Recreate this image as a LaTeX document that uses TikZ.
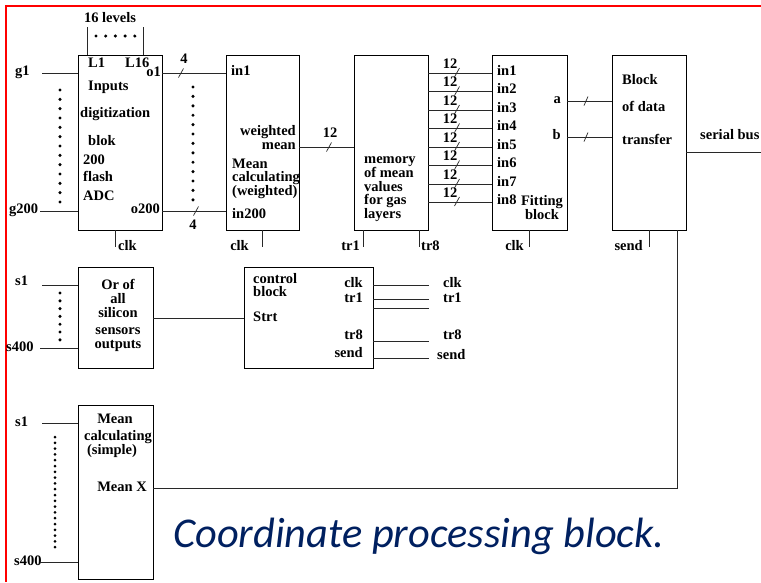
\documentclass[tikz,border=0pt]{standalone}
\usepackage{fontspec}
\setmainfont{Liberation Serif}
\newfontfamily\capfont{Carlito}
\definecolor{capblue}{RGB}{0,32,96}
\definecolor{wirec}{RGB}{40,40,40}
\begin{document}
\begin{tikzpicture}[x=1pt,y=-1pt,
 box/.style={draw=black, line width=0.9pt, rectangle, inner sep=0pt},
 wire/.style={draw=wirec, line width=0.8pt},
 tick/.style={draw=wirec, line width=0.7pt},
 lbl/.style={inner sep=0pt, font=\fontsize{14.5}{14.5}\selectfont\bfseries},
 dotc/.style={fill=black},
]
\useasboundingbox (0,0) rectangle (761,582);
\fill[white] (0,0) rectangle (761,582);
\draw[red, line width=2.2pt] (6,582) -- (6,6) -- (761,6);

% ---------- boxes ----------
\node[box, minimum width=84, minimum height=175] (b1) at (120,142.5) {};
\node[box, minimum width=73, minimum height=175] (b2) at (262.5,142.5) {};
\node[box, minimum width=74, minimum height=175] (b3) at (391,142.5) {};
\node[box, minimum width=75, minimum height=175] (b4) at (529.5,142.5) {};
\node[box, minimum width=74, minimum height=175] (b5) at (649,142.5) {};
\node[box, minimum width=75, minimum height=101] (b6) at (115.5,317.5) {};
\node[box, minimum width=129, minimum height=101] (b7) at (308.5,317.5) {};
\node[box, minimum width=75, minimum height=174] (b8) at (115.5,492) {};

% ---------- block 1 ----------
\node[lbl] (lev) at (110,17.5) {16 levels};
\coordinate (l1top) at (87,27);
\coordinate (l16top) at (143,27);
\draw[wire] (l1top) -- (l1top |- b1.north);
\draw[wire] (l16top) -- (l16top |- b1.north);
\foreach \i in {0,...,4} \fill[dotc] ({96+9.7*\i},36) circle (1.7);
\node[lbl, anchor=mid west] (tL1) at (88,65) {L1};
\node[lbl, anchor=mid west] (tL16) at (125,65) {L16};
\node[lbl, anchor=mid east] (to1) at (161,74) {o1};
\node[lbl, anchor=mid west] (tinp) at (88,88) {Inputs};
\node[lbl, anchor=mid west] (tdig) at (80,115) {digitization};
\node[lbl, anchor=mid west] (tblok) at (88,143) {blok};
\node[lbl, anchor=mid west] (t200) at (83,162) {200};
\node[lbl, anchor=mid west] (tflash) at (83,179) {flash};
\node[lbl, anchor=mid west] (tadc) at (83,198) {ADC};
\node[lbl, anchor=mid east] (to200) at (160,211) {o200};
\node[lbl, anchor=mid west] (tg1) at (15,73) {g1};
\node[lbl, anchor=mid west] (tg200) at (9,211) {g200};
\coordinate (g1c) at (42,73);
\coordinate (g200c) at (40,211);
\draw[wire] (g1c) -- (g1c -| b1.west);
\draw[wire] (g200c) -- (g200c -| b1.west);
\foreach \i in {0,...,12} \fill[dotc] (60,{90+9.33*\i}) circle (1.7);
\foreach \i in {0,...,12} \fill[dotc] (193,{87+9.4*\i}) circle (1.7);
\draw[wire] (b1.east |- 0,73) -- (b2.west |- 0,73);
\draw[wire] (b1.east |- 0,211) -- (b2.west |- 0,211);
\draw[tick] (181,73) +(-2.5,4.5) -- +(2.5,-4.5);
\draw[tick] (196,211) +(-2.5,4.5) -- +(2.5,-4.5);
\node[lbl] (t4a) at (184,59) {4};
\node[lbl] (t4b) at (193,225) {4};
\coordinate (clk1) at (115,247);
\draw[wire] (clk1 |- b1.south) -- (clk1);
\node[lbl, anchor=mid west] (tclk1) at (118,248) {clk};

% ---------- block 2 ----------
\node[lbl, anchor=mid west] (tin1) at (231,73) {in1};
\node[lbl, anchor=mid east] (twei) at (296,133) {weighted};
\node[lbl, anchor=mid east] (tmean) at (296,147) {mean};
\node[lbl, anchor=mid west] (tMean) at (232,166) {Mean};
\node[lbl, anchor=mid west] (tcalc) at (232,179) {calculating};
\node[lbl, anchor=mid west] (twtd) at (232,193) {(weighted)};
\node[lbl, anchor=mid west] (tin200) at (232,216) {in200};
\draw[wire] (b2.east |- 0,147) -- (b3.west |- 0,147);
\draw[tick] (329,147) +(-2.5,4.5) -- +(2.5,-4.5);
\node[lbl] (t12m) at (330,133) {12};
\coordinate (clk2) at (262,247);
\draw[wire] (clk2 |- b2.south) -- (clk2);
\node[lbl, anchor=mid east] (tclk2) at (249,248) {clk};

% ---------- block 3 ----------
\node[lbl, anchor=mid west] (tm1) at (364,161) {memory};
\node[lbl, anchor=mid west] (tm2) at (364,175) {of mean};
\node[lbl, anchor=mid west] (tm3) at (364,189) {values};
\node[lbl, anchor=mid west] (tm4) at (364,202) {for gas};
\node[lbl, anchor=mid west] (tm5) at (364,216) {layers};
\foreach \y [count=\k] in {73,91.5,110,128.5,147,165.5,184,202} {
  \draw[wire] (b3.east |- 0,\y) -- (b4.west |- 0,\y);
  \draw[tick] (457,\y) +(-2.5,4) -- +(2.5,-5);
  \node[lbl] (t12-\k) at (450,{\y-9.5}) {12};
  \node[lbl, anchor=mid west] (tin-\k) at (497,{\y}) {in\k};
}
\coordinate (tr1c) at (363,247);
\coordinate (tr8c) at (419,247);
\draw[wire] (tr1c |- b3.south) -- (tr1c);
\draw[wire] (tr8c |- b3.south) -- (tr8c);
\node[lbl, anchor=mid east] (ttr1) at (360,248) {tr1};
\node[lbl, anchor=mid west] (ttr8) at (421,248) {tr8};

% ---------- block 4 ----------
\node[lbl] (tfit) at (542,202) {Fitting};
\node[lbl] (tfblk) at (542,215) {block};
\node[lbl, anchor=mid east] (ta) at (561,101) {a};
\node[lbl, anchor=mid east] (tb) at (561,137) {b};
\draw[wire] (b4.east |- 0,101) -- (b5.west |- 0,101);
\draw[wire] (b4.east |- 0,137) -- (b5.west |- 0,137);
\draw[tick] (586,101) +(-2,4.5) -- +(2,-4.5);
\draw[tick] (586,137) +(-2,4.5) -- +(2,-4.5);
\coordinate (clk4) at (529,247);
\draw[wire] (clk4 |- b4.south) -- (clk4);
\node[lbl, anchor=mid east] (tclk4) at (524,248) {clk};

% ---------- block 5 ----------
\node[lbl, anchor=mid west] (tB1) at (622,82) {Block};
\node[lbl, anchor=mid west] (tB2) at (622,109) {of data};
\node[lbl, anchor=mid west] (tB3) at (622,142) {transfer};
\coordinate (busend) at (761,152);
\draw[wire] (busend -| b5.east) -- (busend);
\node[lbl, anchor=mid west] (tbus) at (700,137) {serial bus};
\coordinate (sendc) at (649,247);
\draw[wire] (sendc |- b5.south) -- (sendc);
\node[lbl, anchor=mid east] (tsend) at (643,248) {send};

% ---------- block 6 ----------
\node[lbl] (to1a) at (118,284) {Or of};
\node[lbl] (to1b) at (118,299) {all};
\node[lbl] (to1c) at (118,313) {silicon};
\node[lbl] (to1d) at (118,331) {sensors};
\node[lbl] (to1e) at (118,346) {outputs};
\node[lbl, anchor=mid west] (ts1a) at (15,283) {s1};
\node[lbl, anchor=mid west] (ts400a) at (6,349) {s400};
\coordinate (s1a) at (42,285);
\coordinate (s400a) at (40,348);
\draw[wire] (s1a) -- (s1a -| b6.west);
\draw[wire] (s400a) -- (s400a -| b6.west);
\foreach \i in {0,...,6} \fill[dotc] (60,{293+7.8*\i}) circle (1.7);
\draw[wire] (b6.east |- 0,318) -- (b7.west |- 0,318);

% ---------- block 7 ----------
\node[lbl, anchor=mid west] (tc1) at (253,281) {control};
\node[lbl, anchor=mid west] (tc2) at (253,294) {block};
\node[lbl, anchor=mid west] (tc3) at (253,319) {Strt};
\node[lbl, anchor=mid east] (tcclk) at (363,285) {clk};
\node[lbl, anchor=mid east] (tctr1) at (363,300) {tr1};
\node[lbl, anchor=mid east] (tctr8) at (363,337) {tr8};
\node[lbl, anchor=mid east] (tcsend) at (363,355) {send};
\foreach \y/\n in {285/o1,299/o2,308/o3,341/o4,358/o5} {
  \coordinate (c\n) at (429,\y);
  \draw[wire] (c\n -| b7.east) -- (c\n);
}
\node[lbl, anchor=mid west] (toclk) at (443,285) {clk};
\node[lbl, anchor=mid west] (totr1) at (443,300) {tr1};
\node[lbl, anchor=mid west] (totr8) at (443,337) {tr8};
\node[lbl, anchor=mid west] (tosend) at (437,357) {send};

% ---------- block 8 ----------
\node[lbl] (ts1) at (115,419) {Mean};
\node[lbl] (ts2) at (118,437) {calculating};
\node[lbl] (ts3) at (112,451) {(simple)};
\node[lbl, anchor=mid east] (tmx) at (147,489) {Mean X};
\node[lbl, anchor=mid west] (ts1b) at (15,424) {s1};
\node[lbl, anchor=mid west] (ts400b) at (14,563) {s400};
\coordinate (s1b) at (42,423);
\coordinate (s400b) at (40,562);
\draw[wire] (s1b) -- (s1b -| b8.west);
\draw[wire] (s400b) -- (s400b -| b8.west);
\foreach \i in {0,...,19} \fill[dotc] (55,{437+5.8*\i}) circle (1.5);
\coordinate (mxc) at (677,488);
\draw[wire] (b8.east |- mxc) -- (mxc) -- (mxc |- b5.south);

% ---------- caption ----------
\node[anchor=base west, inner sep=0pt, text=capblue, font=\capfont\itshape\fontsize{42.4}{42.4}\selectfont] (cap) at (173,547) {Coordinate processing block.};
\end{tikzpicture}
\end{document}
